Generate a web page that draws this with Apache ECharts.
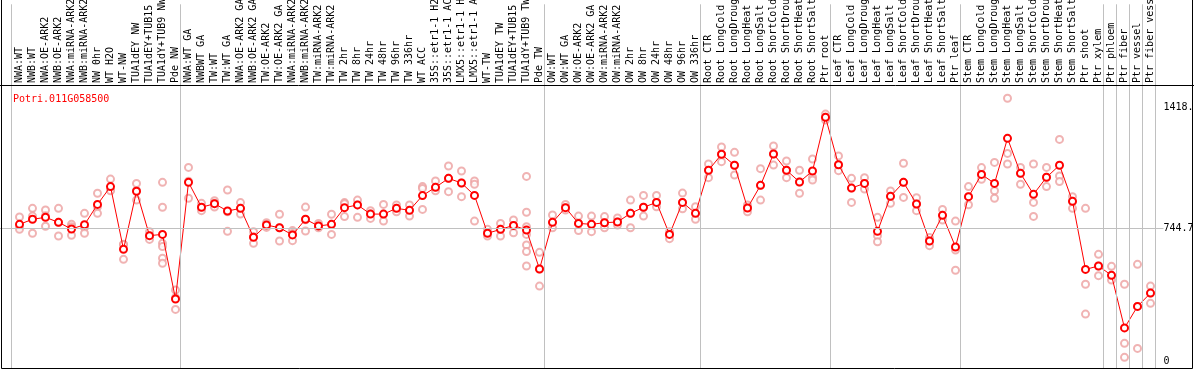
<!DOCTYPE html>
<html>
<head>
<meta charset="utf-8">
<script src="https://cdn.jsdelivr.net/npm/echarts@6.0.0/dist/echarts.min.js"></script>
<style>
html,body{margin:0;padding:0;background:#fff;}
#chart{width:1194px;height:370px;}
</style>
</head>
<body>
<div id="chart"></div>
<script>
const geneName = 'Potri.011G058500';

const categories = [
  'NWA:WT','NWB:WT','NWA:OE-ARK2','NWB:OE-ARK2','NWA:miRNA-ARK2','NWB:miRNA-ARK2','NW 0hr','WT H2O','WT-NW','TUA1dEY NW','TUA1dEY+TUB15','TUA1dY+TUB9 NW','Pde NW',
  'NWA:WT GA','NWBWT GA','TW:WT','TW:WT GA','NWA:OE-ARK2 GA','NWB:OE-ARK2 GA','TW:OE-ARK2','TW:OE-ARK2 GA','NWA:miRNA-ARK2','NWB:miRNA-ARK2','TW:miRNA-ARK2','TW:miRNA-ARK2','TW 2hr','TW 8hr','TW 24hr','TW 48hr','TW 96hr','TW 336hr','WT ACC','35S::etr1-1 H2','35S::etr1-1 AC','LMX5::etr1-1 H','LMX5::etr1-1 A','WT-TW','TUA1dEY TW','TUA1dEY+TUB15','TUA1dY+TUB9 TW','Pde TW',
  'OW:WT','OW:WT GA','OW:OE-ARK2','OW:OE-ARK2 GA','OW:miRNA-ARK2','OW:miRNA-ARK2','OW 2hr','OW 8hr','OW 24hr','OW 48hr','OW 96hr','OW 336hr',
  'Root CTR','Root LongCold','Root LongDroug','Root LongHeat','Root LongSalt','Root ShortCold','Root ShortDrou','Root ShortHeat','Root ShortSalt','Ptr root',
  'Leaf CTR','Leaf LongCold','Leaf LongDroug','Leaf LongHeat','Leaf LongSalt','Leaf ShortCold','Leaf ShortDrou','Leaf ShortHeat','Leaf ShortSalt','Ptr leaf',
  'Stem CTR','Stem LongCold','Stem LongDroug','Stem LongHeat','Stem LongSalt','Stem ShortCold','Stem ShortDrou','Stem ShortHeat','Stem ShortSalt','Ptr shoot','Ptr xylem',
  'Ptr phloem','Ptr fiber','Ptr vessel','Ptr fiber vess'
];

const groupSizes = [13, 28, 12, 10, 10, 11, 1, 1, 1, 1];

const means = [
  765,793,804,776,739,763,876,975,626,949,702,709,349,
  999,860,880,839,854,693,761,746,706,793,756,765,858,873,822,822,854,843,925,971,1021,995,926,715,737,759,733,516,
  776,858,770,765,774,778,826,860,887,709,887,826,
  1066,1155,1094,856,982,1157,1066,1001,1062,1361,
  1097,967,993,726,921,999,878,672,815,639,
  919,1043,993,1244,1049,932,1027,1094,893,514,533,
  481,188,308,382
];

const replicates = [
  [806,752,737],[854,811,715],[845,813,754],[854,776,700],[765,752,704],[826,748,715],[938,863,826],[1017,956,952],[654,652,570],[993,954,900],[724,700,681],[999,860,659,641,576,548],[399,357,291],
  [1082,1005,910],[882,858,841],[897,882,861],[956,835,726],[886,854,822],[724,696,659],[774,761,748],[821,746,672],[730,714,674],[861,790,728],[770,756,746],[821,765,709],[886,880,808],[900,873,804],[841,822,798],[876,822,783],[873,854,835],[873,843,811],[975,965,848],[1006,971,952],[1090,1021,947],[1062,995,919],[1006,988,783],[737,715,700],[770,737,700],[789,759,718],[1032,832,752,709,650,613,533],[609,516,421],
  [817,776,746],[876,858,845],[811,770,730],[811,765,724],[808,774,746],[800,778,761],[900,826,746],[926,860,811],[926,887,863],[724,709,685],[939,887,852],[863,826,793],
  [1101,1066,1025],[1196,1155,1114],[1166,1094,1040],[873,856,835],[1075,982,900],[1201,1157,1095],[1118,1066,1025],[1066,1001,938],[1129,1027,1012],[1379,1361,1346],
  [1146,1097,1064],[1021,967,887],[1025,993,962],[804,702,668],[951,921,882],[1105,999,915],[913,878,841],[691,672,646],[848,815,789],[783,622,509],
  [975,919,874],[1081,1043,1016],[1110,952,910],[1467,1160,1101],[1082,1049,988],[1101,887,809],[1082,1027,975],[1238,1034,1003],[919,893,854],[854,431,265],[598,533,479],
  [531,481,455],[431,102,24],[542,308,74],[421,382,325]
];

const yTickValues = [0, 744.7, 1418];
const yTickLabels = ['0', '744.7', '1418.'];
const yGridValue = 744.7;

// ---- build ----
const FONT = 'DejaVu Sans Mono';
const GRAY = '#C0C0C0';
const meanData = means.map((v, i) => [i, v]);
const repData = [];
replicates.forEach((arr, i) => arr.forEach(v => repData.push([i, v])));

const separators = [-1];
let acc = -1;
groupSizes.forEach(s => { acc += s; separators.push(acc); });
const sepLines = separators.map(k => ({ xAxis: k + 0.38 }));

const xMin = -1.5, xMax = 88;
const gridLeft = 0, gridWidth = 1163.5;

const sepMarkLine = {
  silent: true,
  symbol: ['none', 'none'],
  label: { show: false },
  lineStyle: { color: GRAY, width: 1, type: 'solid' },
  emphasis: { disabled: true },
  data: sepLines
};

const yMarks = yTickValues.map((v, i) => ({
  yAxis: v,
  lineStyle: { color: v === yGridValue ? GRAY : 'rgba(255,255,255,0)', width: 1, type: 'solid' },
  label: {
    show: true, position: 'end', distance: 0,
    formatter: yTickLabels[i],
    color: '#000', fontFamily: FONT, fontSize: 10
  }
}));

const chart = echarts.init(document.getElementById('chart'), null, { renderer: 'canvas' });
chart.setOption({
  animation: false,
  backgroundColor: '#fff',
  title: {
    text: geneName, left: 8, top: 89,
    textStyle: { color: '#FF0000', fontFamily: FONT, fontSize: 10, fontWeight: 'normal' }
  },
  grid: [
    { left: gridLeft, width: gridWidth, top: 0, height: 85 },
    { left: gridLeft, width: gridWidth, top: 85, bottom: 1.5 }
  ],
  xAxis: [
    {
      gridIndex: 0, type: 'value', min: xMin, max: xMax,
      axisLine: { show: false }, axisTick: { show: false }, splitLine: { show: false },
      axisLabel: {
        inside: true, rotate: 90, margin: 2,
        customValues: categories.map((_, i) => i),
        formatter: v => categories[v] || '',
        color: '#000', fontFamily: FONT, fontSize: 10
      }
    },
    {
      gridIndex: 1, type: 'value', min: xMin, max: xMax, show: false
    }
  ],
  yAxis: [
    { gridIndex: 0, type: 'value', min: 0, max: 1, show: false },
    { gridIndex: 1, type: 'value', min: -38, max: 1541, show: false }
  ],
  graphic: [
    { type: 'rect', z: 100, silent: true, shape: { x: 1.5, y: -1, width: 1191, height: 369.5 }, style: { fill: null, stroke: '#000', lineWidth: 1 } },
    { type: 'line', z: 100, silent: true, shape: { x1: 0, y1: 85.5, x2: 1194, y2: 85.5 }, style: { stroke: '#000', lineWidth: 1 } }
  ],
  series: [
    {
      type: 'line', xAxisIndex: 0, yAxisIndex: 0, data: [[0, -5]],
      showSymbol: false, lineStyle: { opacity: 0 }, silent: true,
      markLine: sepMarkLine
    },
    {
      type: 'scatter', xAxisIndex: 1, yAxisIndex: 1, data: repData,
      symbol: 'emptyCircle', symbolSize: 7, z: 2,
      itemStyle: { color: '#ECA0A0', borderWidth: 1 },
      markLine: sepMarkLine, silent: true
    },
    {
      type: 'line', xAxisIndex: 1, yAxisIndex: 1, data: meanData,
      symbol: 'emptyCircle', symbolSize: 7, showAllSymbol: true, z: 3,
      itemStyle: { color: '#FF0000', borderWidth: 1 },
      lineStyle: { color: '#FF0000', width: 1 },
      silent: true,
      markLine: {
        silent: true, symbol: ['none', 'none'],
        emphasis: { disabled: true },
        data: yMarks
      }
    }
  ]
});
</script>
</body>
</html>
